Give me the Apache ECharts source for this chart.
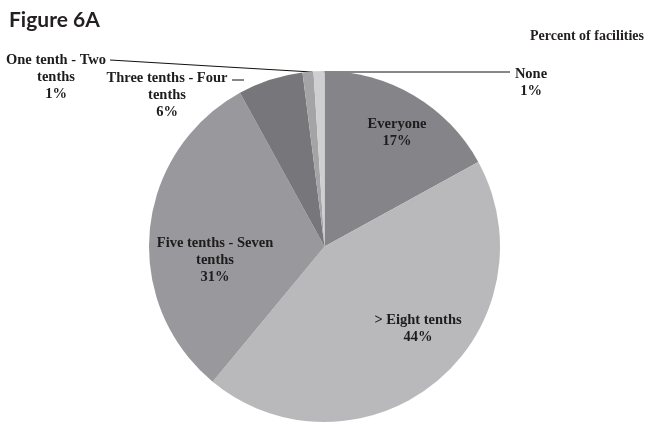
<!DOCTYPE html>
<html>
<head>
<meta charset="utf-8">
<script src="https://cdn.jsdelivr.net/npm/echarts@6/dist/echarts.min.js"></script>
<style>
html,body{margin:0;padding:0;background:#fff;}
#chart{width:649px;height:425px;}
</style>
</head>
<body>
<div id="chart"></div>
<script>
const categories = ['Everyone', '> Eight tenths', 'Five tenths - Seven\ntenths', 'Three tenths - Four\ntenths', 'One tenth - Two\ntenths', 'None'];
const values = [17, 44, 31, 6, 1, 1];
const sliceColors = ['#858589', '#b9b9bc', '#99999d', '#77777b', '#a4a4a7', '#cfcfd2'];

// label placement (pixel positions of label blocks and leader lines)
const labelPlacement = [
  { x: 397, y: 133 },
  { x: 418, y: 329 },
  { x: 215, y: 260 },
  { x: 167, y: 95, line: [[244, 80], [238, 80], [232, 80]] },
  { x: 56, y: 77, line: [[312, 72], [210, 66], [110, 60]] },
  { x: 531, y: 83, line: [[321, 72], [415, 72], [510, 72]] }
];

const chart = echarts.init(document.getElementById('chart'), null, { renderer: 'canvas' });
const data = categories.map((name, i) => ({
  name: name,
  value: values[i],
  itemStyle: { color: sliceColors[i] },
  labelLine: { show: !!labelPlacement[i].line }
}));

chart.setOption({
  animation: false,
  backgroundColor: '#fff',
  title: [
    {
      text: 'Figure 6A',
      left: 4, top: 5,
      textStyle: { fontFamily: 'Lato', fontWeight: 'bold', fontSize: 21, color: '#231f20' }
    },
    {
      text: 'Percent of facilities',
      right: 0, top: 24,
      textStyle: { fontFamily: 'Liberation Serif', fontWeight: 'bold', fontSize: 14, color: '#231f20' }
    }
  ],
  series: [{
    type: 'pie',
    center: [324.5, 246.5],
    radius: 175.5,
    startAngle: 90,
    clockwise: true,
    avoidLabelOverlap: false,
    itemStyle: { borderWidth: 0 },
    label: {
      show: true,
      position: 'outside',
      formatter: '{b}\n{c}%',
      fontFamily: 'Liberation Serif',
      fontWeight: 'bold',
      fontSize: 14.5,
      lineHeight: 17,
      color: '#1e1b1c',
      align: 'center'
    },
    labelLine: {
      show: true,
      lineStyle: { color: '#111', width: 1 }
    },
    labelLayout: function (p) {
      const L = labelPlacement[p.dataIndex];
      const r = { x: L.x, y: L.y, align: 'center', verticalAlign: 'middle' };
      if (L.line) r.labelLinePoints = L.line;
      return r;
    },
    emphasis: { disabled: true },
    data: data
  }]
});
</script>
</body>
</html>
